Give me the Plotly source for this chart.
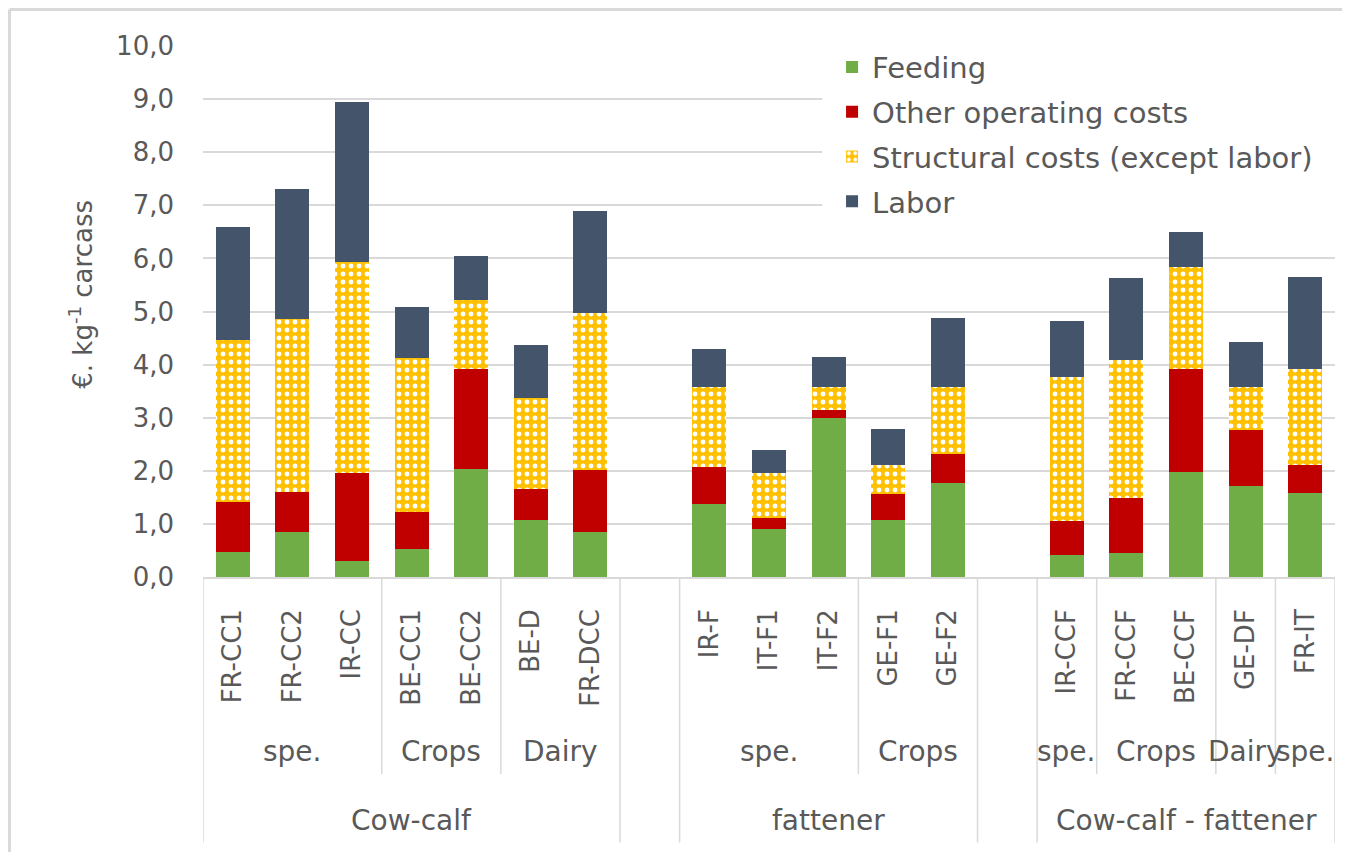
import plotly.graph_objects as go

# ---------------- data ----------------
farms = ["FR-CC1", "FR-CC2", "IR-CC", "BE-CC1", "BE-CC2", "BE-D", "FR-DCC",
         "IR-F", "IT-F1", "IT-F2", "GE-F1", "GE-F2",
         "IR-CCF", "FR-CCF", "BE-CCF", "GE-DF", "FR-IT"]

feeding = [0.47, 0.84, 0.30, 0.53, 2.04, 1.08, 0.84,
           1.38, 0.90, 3.00, 1.08, 1.77,
           0.42, 0.45, 1.98, 1.71, 1.59]
other_operating = [0.94, 0.76, 1.66, 0.70, 1.87, 0.58, 1.18,
                   0.69, 0.21, 0.15, 0.48, 0.55,
                   0.63, 1.03, 1.93, 1.06, 0.51]
structural = [3.05, 3.25, 3.97, 2.89, 1.30, 1.71, 2.95,
              1.51, 0.85, 0.43, 0.54, 1.26,
              2.71, 2.61, 1.93, 0.81, 1.81]
labor = [2.13, 2.46, 3.01, 0.96, 0.84, 0.99, 1.92,
         0.71, 0.44, 0.57, 0.69, 1.30,
         1.06, 1.54, 0.65, 0.85, 1.74]

main_groups = ["Cow-calf", "fattener", "Cow-calf - fattener"]
main_sizes = [7, 5, 5]
sub_groups = ["spe.", "Crops", "Dairy", "spe.", "Crops", "spe.", "Crops", "Dairy", "spe."]
sub_sizes = [3, 2, 2, 3, 2, 1, 2, 1, 1]
sub_per_main = [3, 2, 4]

series_names = ["Feeding", "Other operating costs", "Structural costs (except labor)", "Labor"]
y_ticks = [0, 1, 2, 3, 4, 5, 6, 7, 8, 9, 10]

# ---------------- styling ----------------
FONT = "DejaVu Sans"
TXT = "#595959"
GRID = "#D9D9D9"
colors = ["#70AD47", "#C00000", "#FFC000", "#44546A"]

# category order with blank spacer slots between main groups
cat_order = []
idx = 0
for gi, n in enumerate(main_sizes):
    cat_order.extend(farms[idx:idx + n])
    idx += n
    if gi < len(main_sizes) - 1:
        cat_order.append(" " * (gi + 1))

fig = go.Figure()
values = [feeding, other_operating, structural, labor]
for i, (name, vals) in enumerate(zip(series_names, values)):
    marker = dict(color=colors[i], line=dict(width=0))
    if i == 2:
        marker["pattern"] = dict(shape=".", fgcolor="white", bgcolor=colors[i],
                                 size=8, solidity=0.3, fillmode="replace")
    fig.add_trace(go.Bar(x=farms, y=vals, name=name, marker=marker,
                         legendgroup=name))

# ---------------- hierarchical axis decorations ----------------
shapes = []
annotations = []

Y_SUB_LINE = -0.371
Y_MAIN_LINE = -0.5
Y_SUB_LABEL = -0.329
Y_MAIN_LABEL = -0.458

line_style = dict(color=GRID, width=1.5)
start = 0
sub_i = 0
for gi, n in enumerate(main_sizes):
    left = start - 0.5
    right = start + n - 0.5
    for xx in (left, right):
        shapes.append(dict(type="line", xref="x", yref="paper", x0=xx, x1=xx,
                           y0=0, y1=Y_MAIN_LINE, line=line_style))
    annotations.append(dict(text=main_groups[gi], xref="x", yref="paper",
                            x=(left + right) / 2, y=Y_MAIN_LABEL, showarrow=False,
                            font=dict(family=FONT, size=28, color=TXT),
                            xanchor="center", yanchor="middle"))
    s = start
    for k in range(sub_per_main[gi]):
        sz = sub_sizes[sub_i]
        sl = s - 0.5
        sr = s + sz - 0.5
        if k > 0:
            shapes.append(dict(type="line", xref="x", yref="paper", x0=sl, x1=sl,
                               y0=0, y1=Y_SUB_LINE, line=line_style))
        annotations.append(dict(text=sub_groups[sub_i], xref="x", yref="paper",
                                x=(sl + sr) / 2, y=Y_SUB_LABEL, showarrow=False,
                                font=dict(family=FONT, size=28, color=TXT),
                                xanchor="center", yanchor="middle"))
        s += sz
        sub_i += 1
    start += n + 1

# y axis title
annotations.append(dict(text="€. kg<sup>-1</sup> carcass", xref="paper", yref="paper",
                        x=-0.108, y=0.533, textangle=-90, showarrow=False,
                        font=dict(family=FONT, size=26, color=TXT),
                        xanchor="center", yanchor="middle"))

# white legend box area hiding gridlines behind the legend (no bars there)
shapes.append(dict(type="rect", xref="paper", yref="paper",
                   x0=0.547, x1=1.0, y0=0.6686, y1=0.995,
                   fillcolor="white", line=dict(width=0), layer="above"))

# outer chart border (top and left edges of the figure)
border = dict(color="#D9D9D9", width=3)
shapes.append(dict(type="line", xref="paper", yref="paper",
                   x0=-0.1709, x1=1.05, y0=1.0687, y1=1.0687, line=border))
shapes.append(dict(type="line", xref="paper", yref="paper",
                   x0=-0.1709, x1=-0.1709, y0=1.0687, y1=-0.56, line=border))

fig.update_layout(
    width=1350, height=852,
    barmode="stack", bargap=0.43,
    separators=",.",
    paper_bgcolor="white", plot_bgcolor="white",
    margin=dict(l=195, r=23, t=38, b=283),
    font=dict(family=FONT, color=TXT, size=26),
    shapes=shapes, annotations=annotations,
    showlegend=True,
    legend=dict(x=0.5557, xanchor="left", y=1.008, yanchor="top",
                bgcolor="white", traceorder="grouped", tracegroupgap=4,
                font=dict(family=FONT, size=29, color=TXT)),
    xaxis=dict(type="category", categoryorder="array", categoryarray=cat_order,
               tickvals=farms, ticktext=farms,
               range=[-0.5, len(cat_order) - 0.5], tickangle=-90,
               showline=True, linecolor=GRID, linewidth=1.5,
               showgrid=False, ticks="", ticklabelstandoff=20,
               tickfont=dict(family=FONT, size=26, color=TXT)),
    yaxis=dict(range=[0, 10], tickvals=y_ticks, tickformat=".1f",
               showgrid=True, gridcolor=GRID, gridwidth=1.5,
               zeroline=False, showline=False, ticks="", ticklabelstandoff=28,
               tickfont=dict(family=FONT, size=26, color=TXT)),
)

fig.write_html("out.html")
